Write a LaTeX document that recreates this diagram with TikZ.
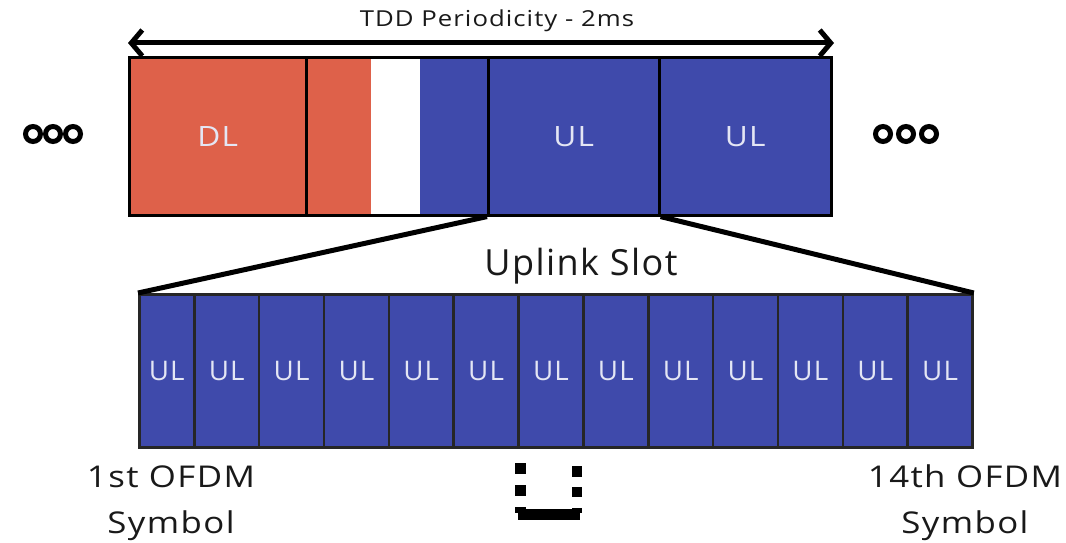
\documentclass[tikz,border=0pt]{standalone}
\usepackage{fontspec}
\usepackage{graphicx}
\setmainfont{Open Sans}
\newfontfamily\lsfont[LetterSpace=4]{Open Sans}
\usetikzlibrary{arrows.meta}
\definecolor{dlred}{HTML}{DE614A}
\definecolor{ulblue}{HTML}{3F4AAB}
\definecolor{lbl}{HTML}{E4E6F4}
\newcommand{\widetxt}[2]{\scalebox{#1}[1]{#2}}
\begin{document}
\begin{tikzpicture}[x=1pt,y=-1pt,
  slotbox/.style={draw=black,line width=2.6pt,text=lbl,inner sep=0pt,anchor=north west,minimum height=158pt,font=\lsfont\fontsize{28}{28}\selectfont},
  symbox/.style={draw=black!85,line width=2.6pt,fill=ulblue,text=lbl,inner sep=0pt,anchor=north west,minimum height=153pt,font=\lsfont\fontsize{27}{27}\selectfont},
  dot/.style={draw=black,line width=5pt,circle,minimum size=15pt,inner sep=0pt},
  caption/.style={font=\lsfont\fontsize{30}{46}\selectfont,inner sep=0pt,text=black!90}]
\useasboundingbox (0,0) rectangle (1066,543);
% top row
\fill[dlred] (305,56) rectangle (371,214);
\fill[ulblue] (420,56) rectangle (487,214);
\node[slotbox,fill=dlred,minimum width=177pt] (dl) at (128,56) {\widetxt{1.13}{DL}};
\node[slotbox,minimum width=182pt] (sp) at (305,56) {};
\node[slotbox,fill=ulblue,minimum width=171pt] (ul1) at (487,56) {\widetxt{1.13}{UL}};
\node[slotbox,fill=ulblue,minimum width=172pt] (ul2) at (658,56) {\widetxt{1.13}{UL}};
% periodicity arrow
\coordinate (aL) at (128,43);
\coordinate (aR) at (834,43);
\draw[line width=5pt,{Straight Barb[length=11pt,width=26pt,line width=5pt]}-{Straight Barb[length=11pt,width=26pt,line width=5pt]}] (aL) -- (aR);
\node[font=\lsfont\fontsize{22}{22}\selectfont,text=black!90] (tdd) at (497,21) {\widetxt{1.17}{TDD Periodicity - 2ms}};
% dots
\node[dot] (l1) at (33,134) {};
\node[dot] (l2) at (53,134) {};
\node[dot] (l3) at (73,134) {};
\node[dot] (r1) at (883,134) {};
\node[dot] (r2) at (906,134) {};
\node[dot] (r3) at (929,134) {};
% bottom symbols
\node[symbox,minimum width=55pt] (s1) at (138,293) {\widetxt{1.03}{UL}};
\foreach \i in {2,...,13}{
  \pgfmathsetmacro{\xx}{193+(\i-2)*64.85}
  \node[symbox,minimum width=64.85pt] (s\i) at (\xx,293) {\widetxt{1.03}{UL}};
}
% zoom lines
\draw[line width=5pt] (ul1.south west) -- (s1.north west);
\draw[line width=5pt] (ul1.south east) -- (s13.north east);
\node[font=\lsfont\fontsize{36}{36}\selectfont,text=black!90] (title) at (581,266) {Uplink Slot};
% captions
\node[caption] (c1) at (171,501) {\widetxt{1.16}{\begin{tabular}{@{}c@{}}1st OFDM\\Symbol\end{tabular}}};
\node[caption] (c14) at (965,501) {\widetxt{1.16}{\begin{tabular}{@{}c@{}}14th OFDM\\Symbol\end{tabular}}};
% odd glyph
\fill[black] (515,463) rectangle (526,474);
\fill[black] (515,485) rectangle (526,496);
\fill[black] (572,466) rectangle (582,477);
\fill[black] (572,487) rectangle (582,497);
\fill[black] (515,507) rectangle (526,513);
\fill[black] (572,508) rectangle (582,513);
\fill[black] (518,509) rectangle (580,520);
\end{tikzpicture}
\end{document}
